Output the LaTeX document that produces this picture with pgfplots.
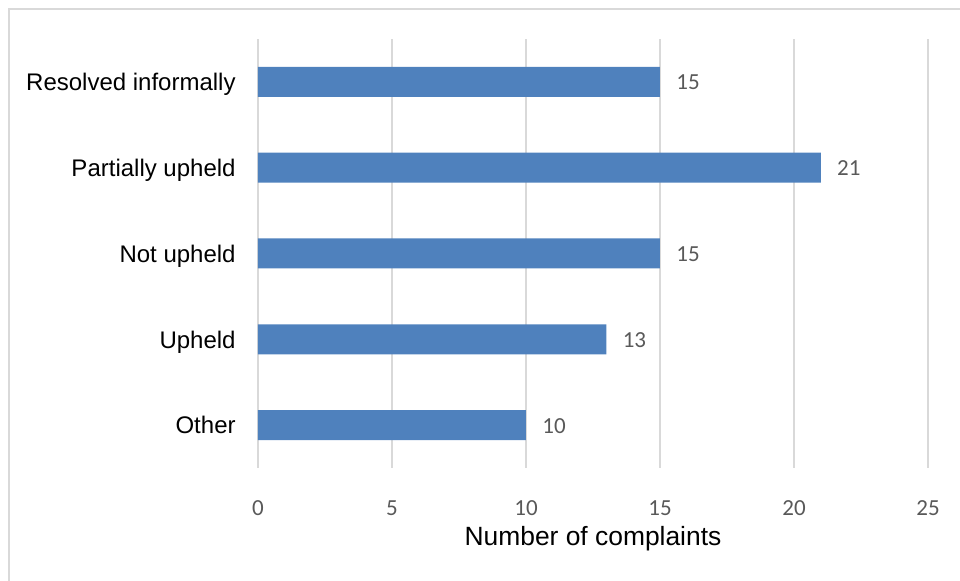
\documentclass[border=0pt]{standalone}
\usepackage{pgfplots}
\pgfplotsset{compat=1.18}
\usepackage{fontspec}
\setmainfont{Liberation Sans}
\newfontfamily\carlito{Carlito}
\definecolor{barblue}{HTML}{4F81BD}
\definecolor{gridgray}{HTML}{D9D9D9}
\definecolor{numgray}{HTML}{595959}

\pgfplotstableread{
idx value
0 10
1 13
2 15
3 21
4 15
}\complaints

\begin{document}
\begin{tikzpicture}
% page frame: 960 x 581 px at 0.5pt per px, plot area origin at (258,468) px
\useasboundingbox (-129pt,-56.5pt) rectangle (351pt,234pt);
\draw[gridgray, line width=0.9pt] (-124.5pt,-60pt) -- (-124.5pt,229.5pt) -- (360pt,229.5pt);
\begin{axis}[
  at={(0,0)}, anchor=south west,
  scale only axis,
  width=335pt, height=214.5pt,
  xbar, bar width=15pt,
  xmin=0, xmax=25,
  ymin=-0.5, ymax=4.5,
  xtick={0,5,...,25},
  ytick={0,1,2,3,4},
  yticklabels={Other, Upheld, Not upheld, Partially upheld, Resolved informally},
  major tick length=0pt,
  axis line style={draw=none},
  xmajorgrids,
  grid style={gridgray, line width=0.75pt},
  /pgf/number format/assume math mode=true,
  xticklabel style={font=\fontsize{11.5}{13}\selectfont\carlito, text=numgray, anchor=base, yshift=-24pt},
  yticklabel style={font=\fontsize{12}{14}\selectfont, text=black, anchor=base east, inner sep=0pt, xshift=-11pt, yshift=-4.4pt},
  xlabel={Number of complaints},
  xlabel style={font=\fontsize{13.2}{15}\selectfont, at={(axis description cs:0.5,0)}, anchor=center, yshift=-35.5pt},
  nodes near coords,
  nodes near coords style={font=\fontsize{11.5}{13}\selectfont\carlito, text=numgray, anchor=base west, inner sep=0pt, xshift=8pt, yshift=-4pt},
  clip=false,
]
\addplot[fill=barblue, draw=none] table[x=value, y=idx] {\complaints};
\end{axis}
\end{tikzpicture}
\end{document}
